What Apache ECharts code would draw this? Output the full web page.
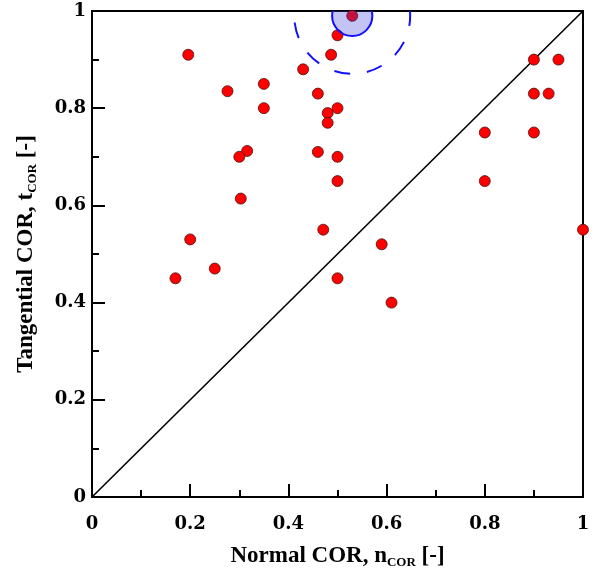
<!DOCTYPE html>
<html>
<head>
<meta charset="utf-8">
<script src="https://cdn.jsdelivr.net/npm/echarts@6/dist/echarts.min.js"></script>
<style>html,body{margin:0;padding:0;background:#fff;}#c{width:595px;height:574px;}</style>
</head>
<body>
<div id="c"></div>
<script>
// Normal COR (x) and tangential COR (y) of the measured impacts
const normalCOR = [0.196, 0.276, 0.35, 0.35, 0.43, 0.487, 0.50, 0.46, 0.50, 0.48, 0.48, 0.46, 0.50, 0.50, 0.316, 0.30, 0.303, 0.471, 0.20, 0.90, 0.95, 0.90, 0.93, 0.80, 0.90, 0.80, 1.0, 0.59, 0.17, 0.25, 0.50, 0.61, 0.53];
const tangentialCOR = [0.91, 0.835, 0.85, 0.80, 0.88, 0.91, 0.95, 0.83, 0.80, 0.79, 0.77, 0.71, 0.70, 0.65, 0.712, 0.70, 0.614, 0.55, 0.53, 0.90, 0.90, 0.83, 0.83, 0.75, 0.75, 0.65, 0.55, 0.52, 0.45, 0.47, 0.45, 0.40, 0.99];
// highlighted point and its two circles (radius in data units)
const highlightX = [0.53, 0.53];
const highlightY = [0.99, 0.99];
const circleRadius = [0.041, 0.118];
// diagonal reference line t = n
const diagX = [0, 1];
const diagY = [0, 1];
const tickLabels = ['0', '0.2', '0.4', '0.6', '0.8', '1'];

const points = normalCOR.map((x, i) => [x, tangentialCOR[i]]);
const diag = diagX.map((x, i) => [x, diagY[i]]);
const circles = highlightX.map((x, i) => [x, highlightY[i], circleRadius[i], i]);

const tickFont = {fontFamily: 'DejaVu Serif', fontWeight: 'bold', fontSize: 18, color: '#000'};
const fmt = v => {
  const idx = Math.round(v / 0.2);
  return Math.abs(v - idx * 0.2) < 1e-6 ? tickLabels[idx] : '';
};
const nameRich = {
  m: {fontFamily: 'Liberation Serif', fontWeight: 'bold', fontSize: 23, color: '#000', lineHeight: 26},
  s: {fontFamily: 'Liberation Serif', fontWeight: 'bold', fontSize: 13, color: '#000', lineHeight: 13, verticalAlign: 'bottom'}
};

const axisCommon = {
  type: 'value', min: 0, max: 1, interval: 0.2,
  axisLine: {show: true, onZero: false, lineStyle: {color: '#000', width: 2}},
  axisTick: {show: true, inside: true, length: 13, lineStyle: {color: '#000', width: 2}},
  minorTick: {show: true, splitNumber: 2, length: 7, lineStyle: {color: '#000', width: 2}},
  splitLine: {show: false},
  nameLocation: 'middle'
};

const chart = echarts.init(document.getElementById('c'), null, {renderer: 'canvas'});
chart.setOption({
  animation: false,
  backgroundColor: '#fff',
  grid: {left: 92, top: 11, right: 12, bottom: 72, show: true, borderColor: '#000', borderWidth: 2, backgroundColor: 'transparent'},
  xAxis: Object.assign({}, axisCommon, {
    axisLabel: Object.assign({}, tickFont, {margin: 18, formatter: fmt}),
    name: '{m|Normal COR, n}{s|COR}{m| [-]}',
    nameGap: 46,
    nameTextStyle: {rich: nameRich}
  }),
  yAxis: Object.assign({}, axisCommon, {
    axisLabel: Object.assign({}, tickFont, {margin: 6, formatter: fmt}),
    name: '{m|Tangential COR, t}{s|COR}{m| [-]}',
    nameGap: 53,
    nameTextStyle: {rich: nameRich}
  }),
  series: [
    {
      type: 'line', data: diag, symbol: 'none', silent: true, z: 2,
      lineStyle: {color: '#000', width: 1.6}
    },
    {
      type: 'scatter', data: points, symbol: 'circle', symbolSize: 11, z: 3,
      itemStyle: {color: '#ff0000', borderColor: '#4a1010', borderWidth: 0.8, opacity: 1}
    },
    {
      type: 'custom', data: circles, z: 4, clip: true,
      renderItem: (params, api) => {
        const c = api.coord([api.value(0), api.value(1)]);
        const r = api.size([api.value(2), api.value(2)])[0];
        const idx = api.value(3);
        const cs = params.coordSys;
        const style = idx === 0
          ? {fill: 'rgba(60,60,220,0.3)', stroke: '#1010ff', lineWidth: 2}
          : {fill: 'none', stroke: '#1010ff', lineWidth: 2, lineDash: [16, 17], lineDashOffset: 6};
        return {
          type: 'circle',
          shape: {cx: c[0], cy: c[1], r: r},
          style: style,
          clipPath: {type: 'rect', shape: {x: cs.x, y: cs.y, width: cs.width, height: cs.height}}
        };
      }
    }
  ]
});
</script>
</body>
</html>
